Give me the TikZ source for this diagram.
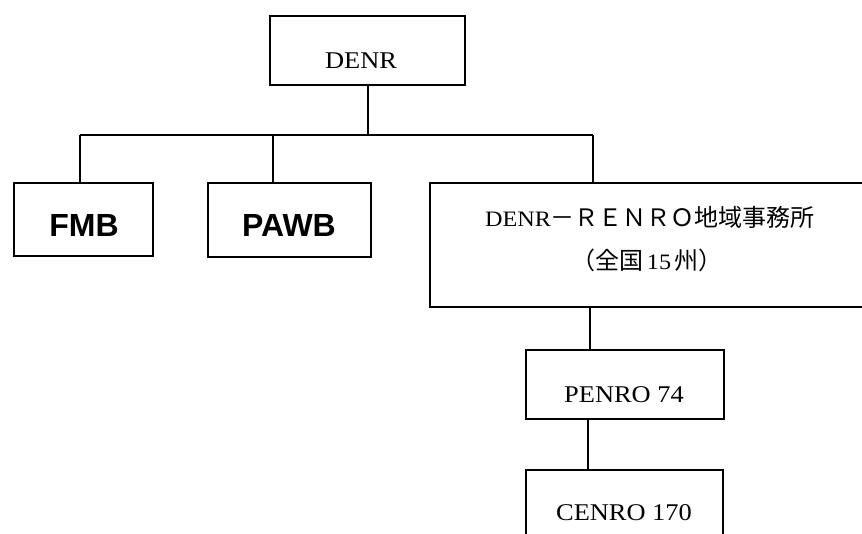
\documentclass[tikz,border=0pt]{standalone}
\usepackage{fontspec}
\setmainfont{Liberation Serif}[FakeStretch=1.1]
\newfontfamily\cjk{Noto Sans CJK JP}
\newfontfamily\arialb{Liberation Sans}[BoldFont={Liberation Sans Bold}]
\begin{document}
\begin{tikzpicture}[x=1pt,y=-1pt,
  box/.style={draw=black, line width=1.4pt, rectangle, inner sep=0pt, fill=none},
  thickbox/.style={draw=black, line width=2.4pt, rectangle, inner sep=0pt},
  conn/.style={draw=black, line width=1.1pt},
  lbl/.style={inner sep=0pt, anchor=center},
  serifA/.style={font=\fontsize{24}{28}\selectfont},
  sansB/.style={font=\arialb\bfseries\fontsize{32}{36}\selectfont}]
\useasboundingbox (0,0) rectangle (862,534);
\clip (0,0) rectangle (862,534);
\fill[white] (0,0) rectangle (862,534);

% boxes
\node[box, minimum width=195pt, minimum height=69pt] (denr) at (367.5,50.5) {};
\node[thickbox, minimum width=139pt, minimum height=73pt] (fmb) at (83.5,219.5) {};
\node[thickbox, minimum width=163pt, minimum height=74pt] (pawb) at (289.5,220) {};
\node[box, minimum width=450pt, minimum height=124pt] (renro) at (655,245) {};
\node[box, minimum width=198pt, minimum height=69pt] (penro) at (625,384.5) {};
\node[box, minimum width=197pt, minimum height=100pt] (cenro) at (624.5,520) {};

% texts
\node[lbl, serifA] (tdenr) at (361,61) {DENR};
\node[lbl, sansB] (tfmb) at (84,225) {FMB};
\node[lbl, sansB] (tpawb) at (289,225) {PAWB};
\node[lbl] (trenroA) at (650,217) {\fontsize{22}{26}\selectfont DENR{\cjk\fontsize{24}{28}\selectfont －ＲＥＮＲＯ地域事務所}};
\node[lbl] (trenroB) at (647,260) {{\cjk\fontsize{24}{28}\selectfont （全国}\fontsize{22}{26}\selectfont\,15\,{\cjk\fontsize{24}{28}\selectfont 州）}};
\node[lbl, serifA] (tpenro) at (624,395) {PENRO 74};
\node[lbl, serifA] (tcenro) at (624,513) {CENRO 170};

% connectors
\coordinate (busL) at (80,135);
\coordinate (busR) at (593,135);
\coordinate (pawbdrop) at (273,135);
\coordinate (denrdrop) at (368,135);
\coordinate (rp) at (590,0);
\coordinate (pc) at (588,0);
\draw[conn] (denrdrop |- denr.south) -- (denrdrop);
\draw[conn] (busL) -- (busR);
\draw[conn] (busL) -- (busL |- fmb.north);
\draw[conn] (pawbdrop) -- (pawbdrop |- pawb.north);
\draw[conn] (busR) -- (busR |- renro.north);
\draw[conn] (rp |- renro.south) -- (rp |- penro.north);
\draw[conn] (pc |- penro.south) -- (pc |- cenro.north);
\end{tikzpicture}
\end{document}
